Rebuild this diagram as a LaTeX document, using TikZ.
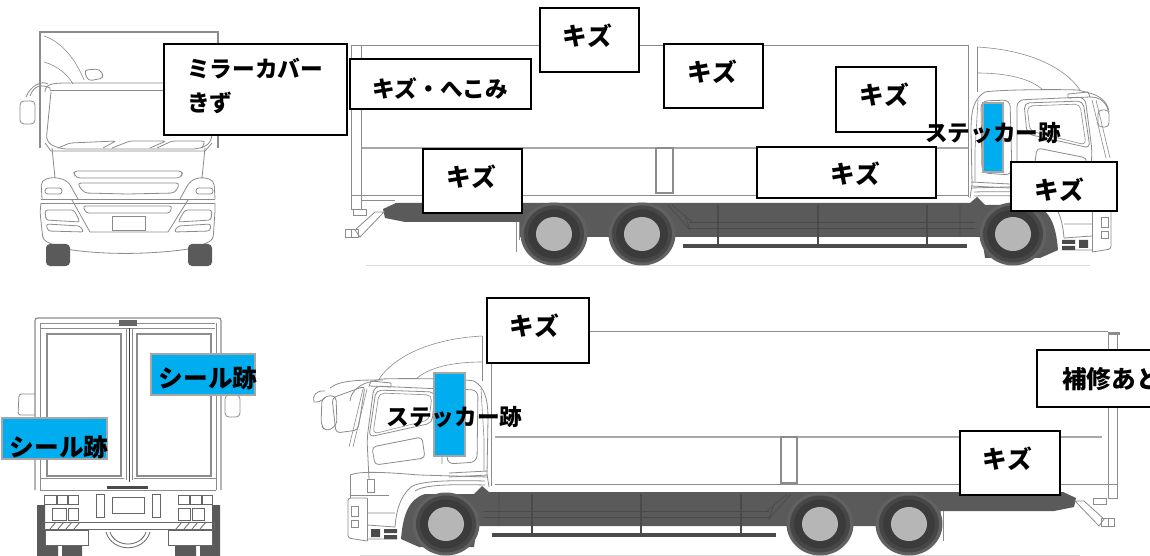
\documentclass[tikz,border=0pt]{standalone}
\usepackage{fontspec}
\newfontfamily\jp{Noto Sans CJK JP}
\tikzset{
  px/.style={x=0.75pt,y=-0.75pt},
  ln/.style={draw=linegray,line width=0.6pt},
  thin line/.style={draw=linegray,line width=0.45pt},
  rail/.style={draw=railgray,line width=1.8pt},
  dark/.style={fill=chassis,draw=none},
  tagbox/.style={draw=black,fill=white,line width=1.6pt},
  bluebox/.style={draw=bluegray,fill=stickerblue,line width=1.3pt},
  lbl/.style={font=\jp\bfseries\fontsize{18.5}{22}\selectfont,text=black,inner sep=0pt,anchor=center},
  lbls/.style={font=\jp\bfseries\fontsize{17}{22}\selectfont,text=black,inner sep=0pt,anchor=center},
  lbll/.style={font=\jp\bfseries\fontsize{18.5}{22}\selectfont,text=black,inner sep=0pt,anchor=west},
  lblm/.style={font=\jp\bfseries\fontsize{17}{22}\selectfont,text=black,inner sep=0pt,anchor=west},
}
\definecolor{linegray}{HTML}{8C8C8C}
\definecolor{railgray}{HTML}{A8A8A8}
\definecolor{chassis}{HTML}{5A5A5A}
\definecolor{chline}{HTML}{4A4A4A}
\definecolor{hub}{HTML}{B6B6B6}
\definecolor{stickerblue}{HTML}{00AEEF}
\definecolor{bluegray}{HTML}{A6A6A6}
\newcommand{\wheelat}[2]{%
  \fill[black!62] (#1,#2) ellipse[x radius=33.5,y radius=31.5];
  \fill[black!72] (#1,#2) ellipse[x radius=30,y radius=28.5];
  \fill[black!77] (#1,#2) ellipse[x radius=26,y radius=24.5];
  \fill[hub] (#1,#2) ellipse[x radius=18,y radius=17];
}
% side view chassis and cab, drawn in the frame of the upper truck
\newcommand{\sidecommon}{%
  % chassis
  \path[dark] (383,209) -- (396,203) -- (970,203) -- (977,197) -- (985,205) -- (1034,205)
     .. controls (1050,210) and (1056,225) .. (1058,250) -- (1040,258) -- (985,258) -- (982,237)
     -- (520,237) -- (520,222) -- (405,222) -- (385,218) -- cycle;
  \draw[chline,line width=0.5pt] (690,222) -- (975,222) (690,228) -- (975,228);
  \draw[chline,line width=1.2pt] (818,205) -- (818,246) (927,205) -- (927,246) (718,205) -- (718,246);
  \draw[chline,line width=2.4pt] (683,246) -- (967,246);
  \draw[chline,line width=0.5pt] (668,205) -- (690,230) -- (685,215) (672,205) -- (692,222) (960,205) -- (960,237);
  % tail piece
  \draw[ln,fill=white] (384,212) -- (360,237) -- (355,230) -- (375,212) -- cycle;
  \draw[ln] (345,229) rectangle (358,237) (351,229) -- (351,237);
  \draw[ln] (353,209) -- (366,209) -- (366,215) -- (353,215) -- cycle;
  \draw[ln] (516,222) -- (516,252) (519,222) -- (519,240);
  % cab roof
  \draw[thin line] (977,47) .. controls (1030,50) and (1065,68) .. (1080,90);
  \draw[thin line] (977,73) .. controls (1005,73) and (1030,78) .. (1043,90);
  \draw[thin line] (977,47) -- (977,92);
  \draw[ln] (985,92) .. controls (995,90) and (1050,89) .. (1078,90) -- (1093,94) .. controls (1103,98) and (1108,104) .. (1109,112);
  \draw[ln] (1068,94) -- (1088,92) -- (1090,97) -- (1068,98) -- cycle;
  % rear of cab
  \draw[ln] (985,92) .. controls (975,98) and (971,108) .. (971,130) -- (972,185) -- (970,198);
  \draw[thin line] (978,100) -- (975,150) -- (975,182);
  % door frame
  \draw[ln,rounded corners=5pt] (981,101) -- (1010,100) -- (1012,175) -- (982,173) -- cycle;
  \draw[ln,rounded corners=5pt] (1017,175) -- (1017,100) -- (1085,97) -- (1092,150) -- (1090,190);
  \draw[ln,rounded corners=4pt] (1024,103) -- (1083,101) -- (1090,148) -- (1027,134) -- cycle;
  \draw[thin line,rounded corners=4pt] (1027,106) -- (1080,104) -- (1086,145) -- (1030,131) -- cycle;
  \draw[ln,rounded corners=3pt] (1087,158) -- (1037,148) -- (1034,169) -- (1084,176) -- cycle;
  \draw[thin line] (1092,100) -- (1106,158);
  \draw[thin line] (1096,100) -- (1110,158);
  % body lower
  \draw[ln] (971,182) -- (1010,184) (971,186) -- (1010,188);
  \draw[ln] (971,188) -- (1040,186) .. controls (1075,183) and (1100,182) .. (1109,186);
  \draw[ln] (974,192) .. controls (1010,191) and (1040,192) .. (1048,198) .. controls (1060,208) and (1063,225) .. (1064,238);
  \draw[ln] (974,196) .. controls (1010,195) and (1036,196) .. (1044,202);
  \draw[ln] (1109,186) -- (1109,209);
  \draw[ln] (1085,190) rectangle (1092,203);
  \draw[ln] (1070,206) -- (1108,206);
  \draw[ln,rounded corners=2pt] (1092,209) -- (1111,209) -- (1111,249) -- (1092,252);
  \draw[ln] (1101,217) rectangle (1108,227) (1101,231) rectangle (1108,238);
  \draw[ln] (1092,209) -- (1092,252);
  \draw[ln] (1064,238) -- (1092,236) (1062,250) -- (1092,250) (1064,224) -- (1092,224);
  \fill[chline] (1062,240) rectangle (1075,244) (1079,240) rectangle (1088,248) (1062,246) rectangle (1075,250);
}
\begin{document}
\begin{tikzpicture}[px]
\clip (0,0) rectangle (1150,556);
\fill[white] (0,0) rectangle (1150,556);

% ---------- front view
\begin{scope}
  \draw[ln,line width=0.9pt] (40,148) -- (40,32) -- (218,32) -- (218,148);
  \draw[thin line] (44,36) .. controls (62,42) and (76,60) .. (84,80);
  \draw[thin line] (44,62) .. controls (58,66) and (68,75) .. (73,84);
  \draw[ln,rounded corners=3pt] (84,70) -- (100,69) -- (104,78) -- (88,81) -- cycle;
  \draw[ln] (30,96) .. controls (34,85) and (42,84) .. (50,88) -- (50,90);
  \draw[ln] (26,97) .. controls (30,86) and (42,80) .. (48,84) ;
  \draw[ln,rounded corners=3pt] (20,101) rectangle (35,124);
  \draw[ln] (45,92) .. controls (45,83) and (55,83) .. (70,83) -- (210,83);
  \draw[ln] (50,90) -- (210,90);
  \draw[ln,rounded corners=5pt] (51,92) -- (46,142) -- (60,149) -- (200,149) -- (212,142) -- (210,92);
  \draw[ln,rounded corners=2pt] (58,148) -- (70,143) -- (116,141) -- (103,148);
  \draw[ln,rounded corners=2pt] (112,148) -- (130,141) -- (166,141) -- (150,148);
  \draw[ln,rounded corners=2pt] (157,148) -- (172,141) -- (205,141) -- (202,148);
  \draw[ln] (45,143) -- (51,151) -- (205,151) -- (212,143);
  \draw[ln] (52,148) -- (55,178);
  \draw[ln] (205,148) -- (202,178);
  \draw[ln,rounded corners=3pt] (73,171) -- (183,171) -- (181,178) -- (76,178) -- cycle;
  \draw[ln,rounded corners=3pt] (77,183) -- (180,183) -- (175,193) -- (128,194) -- (84,193) -- cycle;
  \draw[ln,rounded corners=4pt] (42,199) -- (41,180) -- (55,177) -- (68,181) -- (78,199);
  \draw[ln,rounded corners=4pt] (215,199) -- (214,180) -- (200,177) -- (190,181) -- (180,199);
  \draw[ln,rounded corners=2pt] (45,188) rectangle (62,194);
  \draw[ln,rounded corners=2pt] (196,188) rectangle (213,194);
  \draw[ln] (41,199) -- (215,199) (41,203) -- (215,203);
  \draw[ln,rounded corners=3pt] (41,203) -- (40,212) -- (43,240) -- (60,248) .. controls (100,255) and (150,255) .. (195,248) -- (213,240) -- (215,212) -- (215,203);
  \draw[ln,rounded corners=2pt] (45,210) -- (74,210) -- (80,222) -- (46,220) -- cycle;
  \draw[ln,rounded corners=2pt] (212,210) -- (185,210) -- (178,222) -- (211,220) -- cycle;
  \draw[ln,rounded corners=2pt] (46,224) -- (80,226) -- (84,232) -- (48,231) -- cycle;
  \draw[ln,rounded corners=2pt] (211,224) -- (178,226) -- (174,232) -- (210,231) -- cycle;
  \draw[ln,rounded corners=2pt] (83,206) -- (172,206) -- (170,213) -- (86,213) -- cycle;
  \draw[ln] (72,200) -- (90,232) -- (168,232) -- (188,200);
  \draw[ln] (112,216) rectangle (145,230);
  \fill[chassis,rounded corners=3pt] (46,266) -- (46,244) -- (70,244) -- (70,266) -- cycle;
  \fill[chassis,rounded corners=3pt] (188,266) -- (188,244) -- (212,244) -- (212,266) -- cycle;
\end{scope}

% ---------- upper side view
\begin{scope}
  \draw[ln] (360,45) -- (968,45);
  \draw[ln] (968,45) -- (968,197);
  \draw[ln] (351,45) rectangle (361,195);
  \draw[ln] (351,195) rectangle (361,209);
  \draw[rail] (362,148) -- (968,148);
  \draw[ln] (362,195) -- (968,195);
  \draw[ln] (362,200) -- (395,200);
  \draw[draw=linegray,line width=1.5pt] (656,148) rectangle (673,193);
  \draw[draw=black!15,line width=0.6pt] (366,265) -- (1090,265);
  \sidecommon
  \wheelat{554}{234}
  \wheelat{642}{234}
  \wheelat{1013}{234}
  % door mirror
  \draw[ln] (1090,97) .. controls (1100,97) and (1106,102) .. (1108,110);
  \draw[ln,rounded corners=3pt] (1098,110) rectangle (1109,127);
\end{scope}

% ---------- rear view
\begin{scope}
  \fill[chassis] (37,505) rectangle (45,545) (212,505) rectangle (220,545);
  \fill[chassis] (37,545) rectangle (58,556) (62,545) rectangle (82,556);
  \fill[chassis] (175,545) rectangle (196,556) (200,545) rectangle (220,556);
  \draw[ln,line width=0.9pt,rounded corners=2pt] (35,490) -- (35,318) -- (221,318) -- (221,490);
  \draw[ln] (40,323) -- (215,323) (40,328) -- (215,328);
  \draw[ln] (40,323) -- (40,490) (216,323) -- (216,490);
  \draw[ln,line width=0.9pt] (47,334) rectangle (121,476);
  \draw[ln,line width=0.9pt] (137,334) rectangle (211,476);
  \draw[ln] (126,328) -- (126,480) (132,328) -- (132,480);
  \draw[draw=black!75,line width=0.7pt] (129,328) -- (129,482);
  \fill[black!60] (119,320) rectangle (137,326);
  \draw[ln] (40,478) -- (124,478) (134,478) -- (216,478);
  \draw[ln] (40,490) -- (216,490);
  \fill[chline] (107,486) rectangle (148,489);
  \draw[ln,rounded corners=2pt] (35,394) -- (19,394) -- (18,415) -- (35,415);
  \draw[ln,rounded corners=3pt] (225,395) rectangle (240,417);
  \draw[draw=black!60,line width=0.6pt] (44,495) rectangle (56,504) (57,495) rectangle (67,504) (68,495) rectangle (78,504);
  \draw[draw=black!60,line width=0.6pt] (178,495) rectangle (189,504) (190,495) rectangle (201,504) (202,495) rectangle (212,504);
  \draw[draw=black!60,line width=0.6pt] (52,508) rectangle (66,520) (68,508) rectangle (78,520) (178,508) rectangle (190,520) (192,508) rectangle (204,520);
  \draw[draw=black!60,line width=0.6pt] (112,497) rectangle (144,513);
  \draw[draw=black!60,line width=0.6pt] (96,494) rectangle (104,517) (152,494) rectangle (160,517);
  \draw[draw=black!60,line width=0.6pt] (42,522) rectangle (214,529);
  \draw[draw=black!60,line width=0.6pt] (50,529) -- (56,522) (58,529) -- (64,522) (66,529) -- (72,522) (74,529) -- (80,522)
     (176,529) -- (182,522) (184,529) -- (190,522) (192,529) -- (198,522) (200,529) -- (206,522);
  \draw[draw=black!60,line width=0.6pt] (45,530) rectangle (88,545) (168,530) rectangle (212,545);
  \draw[draw=black!60,line width=0.6pt] (110,532) .. controls (115,548) and (141,548) .. (146,532);
  \draw[draw=black!60,line width=0.6pt] (106,532) .. controls (112,553) and (144,553) .. (150,532);
\end{scope}

% ---------- lower side view
\begin{scope}
  \draw[ln] (490,331) -- (1108,331);
  \draw[ln] (491,331) -- (491,486);
  \draw[ln] (1108,333) rectangle (1117,484);
  \draw[ln] (1108,484) rectangle (1117,498);
  \fill[linegray] (1108,332) rectangle (1120,335);
  \draw[rail] (495,437) -- (1102,437);
  \draw[ln] (495,484) -- (1108,484);
  \draw[draw=linegray,line width=1.5pt] (781,437) rectangle (797,483);
  \draw[draw=black!15,line width=0.6pt] (360,555) -- (1080,555);
  \begin{scope}[shift={(1459,289)},xscale=-1]
    \sidecommon
  \end{scope}
  \wheelat{446}{524}
  \wheelat{820}{524}
  \wheelat{909}{524}
  % door mirror
  \draw[ln,rounded corners=4pt] (322,397) -- (336,395) -- (337,425) -- (326,432) -- (321,425) -- cycle;
  \draw[ln] (330,388) .. controls (340,380) and (360,380) .. (383,380);
  \draw[ln] (325,391) .. controls (316,390) and (312,396) .. (314,402) .. controls (318,403) and (322,400) .. (325,398);
  \draw[ln,rounded corners=3pt] (332,398) -- (365,386) -- (358,430) -- (336,433) -- cycle;
\end{scope}

% ---------- sticker rectangles
\draw[bluebox] (983,103) rectangle (1003,172);
\draw[bluebox] (434,373) rectangle (465,456);
\draw[bluebox] (151,354) rectangle (255,395);
\draw[bluebox] (2,418) rectangle (107,459);

% ---------- label boxes
\draw[tagbox] (164,44) rectangle (347,135);
\node[lblm] (mirror) at (187,88.5) {\begin{tabular}{@{}l@{}}ミラーカバー\\[3pt]きず\end{tabular}};
\draw[tagbox] (350,59) rectangle (531,109);
\node[lbls] (dent) at (440,88) {キズ・へこみ};
\draw[tagbox] (540,8) rectangle (639,72);
\node[lbl] (k1) at (587,36) {キズ};
\draw[tagbox] (664,44) rectangle (763,108);
\node[lbl] (k2) at (712,72) {キズ};
\draw[tagbox] (836,67) rectangle (936,132);
\node[lbl] (k3) at (884,95) {キズ};
\draw[tagbox] (757,147) rectangle (936,198);
\node[lbl] (k4) at (855,174) {キズ};
\draw[tagbox] (423,149) rectangle (522,213);
\node[lbl] (k5) at (471,177) {キズ};
\draw[tagbox] (1011,162) rectangle (1117,211);
\node[lbl] (k6) at (1059,190) {キズ};
\node[lbls] (st1) at (993,133) {ステッカー跡};
\draw[tagbox] (487,298) rectangle (589,363);
\node[lbl] (k7) at (534,326) {キズ};
\draw[tagbox] (1037,350) rectangle (1160,407);
\node[lbll] (rep) at (1062,379) {補修あと};
\draw[tagbox] (960,431) rectangle (1060,495);
\node[lbl] (k8) at (1007,459) {キズ};
\node[lbls] (st2) at (454.5,417) {ステッカー跡};
\node[lbl] (s1) at (208,378) {シール跡};
\node[lbl] (s2) at (59,447) {シール跡};
\end{tikzpicture}
\end{document}
